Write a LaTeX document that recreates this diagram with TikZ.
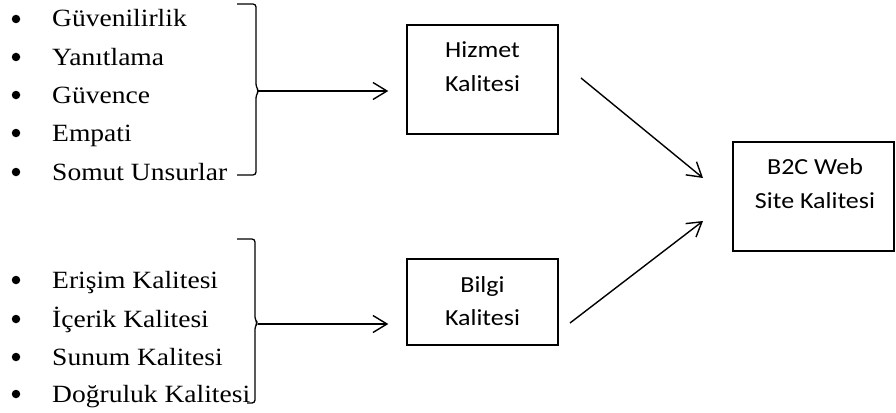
\documentclass[tikz,border=0pt]{standalone}
\usepackage{fontspec}
\usetikzlibrary{arrows.meta}
\newfontfamily\listfont[FakeStretch=1.11]{Liberation Serif}
\newfontfamily\boxfont[FakeStretch=1.13]{Carlito}
\begin{document}
\begin{tikzpicture}[x=1pt,y=-1pt,
  item/.style={anchor=base west, inner sep=0pt, font=\listfont\fontsize{24.8}{28}\selectfont},
  dot/.style={circle, fill=black, inner sep=0pt, minimum size=8.5pt},
  frame/.style={draw, line width=1.4pt, inner sep=0pt},
  boxtxt/.style={anchor=base, inner sep=0pt, font=\boxfont\fontsize{23}{27}\selectfont},
  brace/.style={draw, line width=1.3pt, rounded corners=3pt, line join=round},
  link/.style={draw, line width=1.4pt, -{Straight Barb[length=14pt,width=17pt]}}
]
\fill[white] (0,0) rectangle (896,412);
\useasboundingbox (0,0) rectangle (896,412);

% service quality dimensions
\foreach \t/\y [count=\k] in {Güvenilirlik/27, Yanıtlama/65, Güvence/103, Empati/141, Somut Unsurlar/180}{
  \node[dot] (sb\k) at (16,\y-8) {};
  \node[item] (si\k) at (52,\y) {\t};
}
% information quality dimensions
\foreach \t/\y [count=\k] in {Erişim Kalitesi/288, İçerik Kalitesi/327, Sunum Kalitesi/365, Doğruluk Kalitesi/402}{
  \node[dot] (ib\k) at (16,\y-8) {};
  \node[item] (ii\k) at (52,\y) {\t};
}

% braces
\draw[brace] (237,4) -- (256,4) -- (256,87) -- (259,91) -- (256,95) -- (256,175) -- (237,175);
\draw[brace] (237,239) -- (255,239) -- (255,320) -- (258,323) -- (255,326) -- (255,403) -- (247,403);
\coordinate (tip1) at (258,91);
\coordinate (tip2) at (258,324);

% boxes
\node[frame, minimum width=151pt, minimum height=109pt] (hz) at (482.5,79.5) {};
\node[boxtxt] (hz1) at (482.5,58) {Hizmet};
\node[boxtxt] (hz2) at (482.5,92) {Kalitesi};

\node[frame, minimum width=151pt, minimum height=86pt] (bl) at (482.5,302) {};
\node[boxtxt] (bl1) at (482.5,292) {Bilgi};
\node[boxtxt] (bl2) at (482.5,325) {Kalitesi};

\node[frame, minimum width=161pt, minimum height=109pt] (web) at (813.5,196.5) {};
\node[boxtxt] (web1) at (815,174) {B2C Web};
\node[boxtxt] (web2) at (815,208) {Site Kalitesi};

% connectors
\path[link, shorten >=18pt] (tip1) -- (tip1 -| hz.west);
\path[link, shorten >=18pt] (tip2) -- (tip2 -| bl.west);
\coordinate (s1) at (581,78);
\coordinate (e1) at (703,178);
\coordinate (s2) at (570,323);
\coordinate (e2) at (703,221);
\path[link] (s1) -- (e1);
\path[link] (s2) -- (e2);
\end{tikzpicture}
\end{document}
